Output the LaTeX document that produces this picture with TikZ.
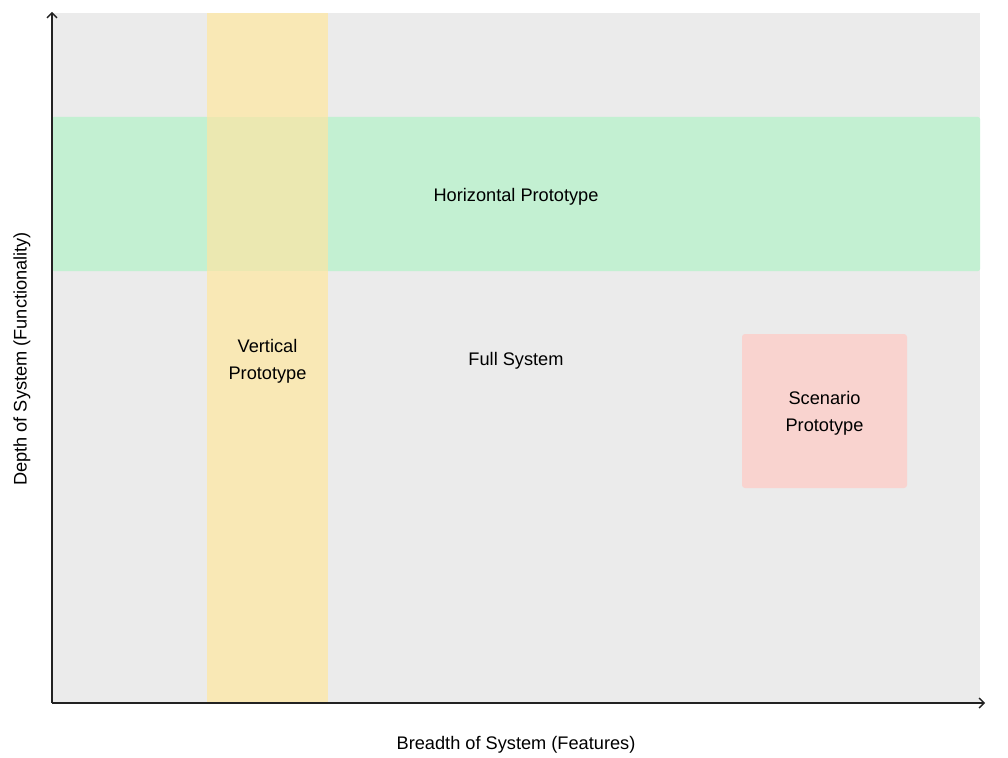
\documentclass[tikz,border=0pt]{standalone}
\usepackage{fontspec}
\setmainfont{Liberation Sans}
\usetikzlibrary{arrows.meta}
\definecolor{panelgray}{HTML}{EBEBEB}
\definecolor{bandgreen}{HTML}{C3F0D2}
\definecolor{bandyellow}{HTML}{F9E8B5}
\definecolor{bandmix}{HTML}{EBE8B1}
\definecolor{boxred}{HTML}{F9D3CF}
\definecolor{axisink}{HTML}{222222}
\tikzset{
  lbl/.style={font=\fontsize{18.2}{27}\selectfont, text=black, align=center, inner sep=0pt},
  axisline/.style={draw=axisink, line width=1.6pt, -{Straight Barb[length=5pt,width=10pt,line width=1.4pt]}},
}
\begin{document}
\begin{tikzpicture}[x=1pt,y=-1pt]
  \useasboundingbox (0,0) rectangle (1008,757);
  % plot area
  \fill[panelgray] (52,13) rectangle (980,703);
  % horizontal band
  \fill[bandgreen, rounded corners=2pt] (52,117) rectangle (980,271);
  % vertical band and its overlap with the horizontal one
  \fill[bandyellow] (207,13) rectangle (328,703);
  \fill[bandmix] (207,117) rectangle (328,271);
  % scenario box
  \fill[boxred, rounded corners=3pt] (742,334) rectangle (907,488);

  \node[lbl] (horiz) at (516,196.5) {Horizontal Prototype};
  \node[lbl] (full) at (516,360.5) {Full System};
  \node[lbl] (vert) at (267.5,361) {Vertical\\Prototype};
  \node[lbl] (scen) at (824.5,413.5) {Scenario\\Prototype};

  % axes
  \coordinate (origin) at (52,703);
  \coordinate (ytop) at (52,12);
  \coordinate (xend) at (985,703);
  \draw[axisline] (origin) -- (ytop);
  \draw[axisline] (origin) -- (xend);

  \node[lbl] (xlabel) at (516,745) {Breadth of System (Features)};
  \node[lbl, rotate=90] (ylabel) at (22,359) {Depth of System (Functionality)};
\end{tikzpicture}
\end{document}
